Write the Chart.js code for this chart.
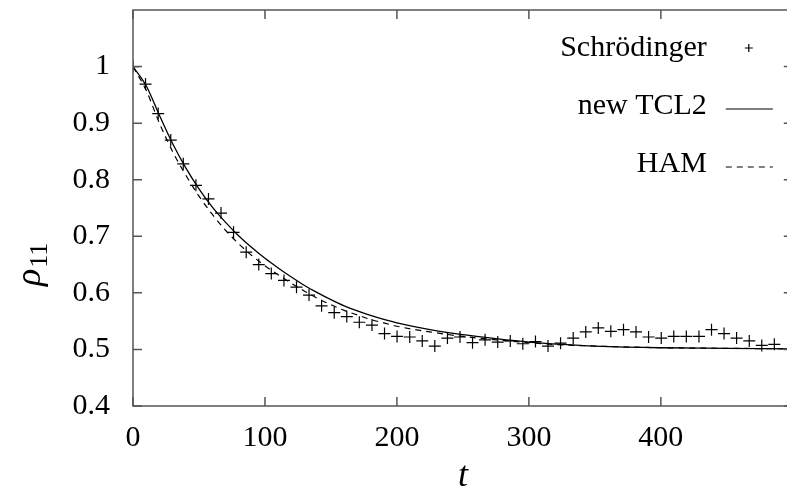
<!DOCTYPE html>
<html>
<head>
<meta charset="utf-8">
<title>rho11</title>
<script src="https://cdn.jsdelivr.net/npm/chart.js@4.4.0/dist/chart.umd.min.js"></script>
<style>
  html, body { margin: 0; padding: 0; overflow: hidden; background: #fff; }
  #wrap { width: 800px; height: 495px; }
</style>
</head>
<body>
<div id="wrap"><canvas id="rhoChart"></canvas></div>
<script>
// Date
const schrTime = [0, 9.5, 19.1, 28.6, 38.1, 47.7, 57.2, 66.7, 76.2, 85.8, 95.3, 104.8, 114.4, 123.9, 133.4, 142.9,
    152.5, 162.0, 171.5, 181.1, 190.6, 200.1, 209.7, 219.2, 228.7, 238.3, 247.8, 257.3, 266.8, 276.4, 285.9, 295.4,
    305.0, 314.5, 324.0, 333.6, 343.1, 352.6, 362.1, 371.7, 381.2, 390.7, 400.3, 409.8, 419.3, 428.9, 438.4, 447.9,
    457.4, 467.0, 476.5, 486.0];
const schrValues = [1.000, 0.969, 0.917, 0.870, 0.828, 0.790, 0.766, 0.741, 0.707, 0.672, 0.650, 0.634, 0.622, 0.610, 0.596, 0.577,
    0.565, 0.558, 0.548, 0.543, 0.528, 0.523, 0.522, 0.515, 0.506, 0.520, 0.522, 0.512, 0.517, 0.513, 0.515, 0.510,
    0.514, 0.506, 0.511, 0.520, 0.531, 0.538, 0.532, 0.535, 0.531, 0.522, 0.520, 0.523, 0.523, 0.523, 0.535, 0.528,
    0.520, 0.515, 0.507, 0.509];

const curveTime = [0, 10, 20, 30, 40, 50, 60, 70, 80, 90, 100, 110, 120, 130, 140, 150, 160, 170, 180, 190, 200,
    225, 250, 275, 300, 325, 350, 400, 450, 500];
const tcl2Values = [1.000, 0.966, 0.914, 0.864, 0.821, 0.784, 0.752, 0.725, 0.701, 0.680, 0.661, 0.644, 0.628, 0.613,
    0.600, 0.588, 0.577, 0.568, 0.560, 0.553, 0.547, 0.535, 0.526, 0.519, 0.513, 0.509, 0.506, 0.503, 0.502, 0.501];
const hamValues = [1.000, 0.958, 0.900, 0.850, 0.808, 0.771, 0.739, 0.711, 0.687, 0.666, 0.648, 0.632, 0.617, 0.603,
    0.590, 0.579, 0.569, 0.561, 0.553, 0.547, 0.541, 0.531, 0.523, 0.517, 0.512, 0.508, 0.506, 0.503, 0.502, 0.501];

const xTicks = [0, 100, 200, 300, 400];
const yTicks = [0.4, 0.5, 0.6, 0.7, 0.8, 0.9, 1];

const FONT = "'Liberation Serif', 'Times New Roman', serif";

function pairs(xs, ys) {
    return xs.map((x, i) => ({ x: x, y: ys[i] }));
}

// fara padding automat pentru etichete
function noPad(s) {
    s.paddingTop = 0; s.paddingBottom = 0; s.paddingLeft = 0; s.paddingRight = 0;
}

// Cadru, tick-uri interioare, titluri axe si legenda
const framePlugin = {
    id: 'frame',
    afterDraw(chart) {
        const ctx = chart.ctx;
        const a = chart.chartArea;
        const sx = chart.scales.x, sy = chart.scales.y;
        ctx.save();
        ctx.strokeStyle = '#555';
        ctx.lineWidth = 1.5;
        ctx.strokeRect(a.left, a.top, a.right - a.left, a.bottom - a.top);
        ctx.beginPath();
        sx.ticks.forEach(t => {
            const px = sx.getPixelForValue(t.value);
            ctx.moveTo(px, a.bottom); ctx.lineTo(px, a.bottom - 9);
            ctx.moveTo(px, a.top); ctx.lineTo(px, a.top + 9);
        });
        sy.ticks.forEach(t => {
            const py = sy.getPixelForValue(t.value);
            ctx.moveTo(a.left, py); ctx.lineTo(a.left + 9, py);
            ctx.moveTo(a.right, py); ctx.lineTo(a.right - 9, py);
        });
        ctx.stroke();

        // titlu axa x
        ctx.fillStyle = '#000';
        ctx.font = 'italic 36px ' + FONT;
        ctx.textAlign = 'center';
        ctx.textBaseline = 'alphabetic';
        ctx.fillText('t', (a.left + a.right) / 2, a.bottom + 80);

        // titlu axa y: rho cu indice 11
        ctx.save();
        ctx.translate(a.left - 93, 286);
        ctx.rotate(-Math.PI / 2);
        ctx.textAlign = 'left';
        ctx.font = 'italic 36px ' + FONT;
        ctx.fillText('ρ', 0, 0);
        const w = ctx.measureText('ρ').width;
        ctx.font = '26px ' + FONT;
        ctx.fillText('11', w + 1, 7);
        ctx.restore();

        // legenda
        ctx.font = '30px ' + FONT;
        ctx.textAlign = 'right';
        ctx.textBaseline = 'middle';
        chart.data.datasets.forEach((ds, i) => {
            const y = a.top + 38 + i * 58;
            ctx.fillStyle = '#000';
            ctx.fillText(ds.label, a.right - 86, y);
            ctx.strokeStyle = '#000';
            ctx.lineWidth = 1.2;
            ctx.beginPath();
            if (ds.showLine === false) {
                const cx = a.right - 44;
                ctx.moveTo(cx - 4, y); ctx.lineTo(cx + 4, y);
                ctx.moveTo(cx, y - 4); ctx.lineTo(cx, y + 4);
            } else {
                ctx.setLineDash(ds.borderDash || []);
                ctx.moveTo(a.right - 67, y + 3); ctx.lineTo(a.right - 20, y + 3);
            }
            ctx.stroke();
            ctx.setLineDash([]);
        });
        ctx.restore();
    }
};

const ctx = document.getElementById('rhoChart').getContext('2d');
const rhoChart = new Chart(ctx, {
    type: 'scatter',
    data: {
        datasets: [{
            label: 'Schrödinger',
            data: pairs(schrTime, schrValues),
            showLine: false,
            pointStyle: 'cross',
            pointRadius: 6,
            pointBorderWidth: 1.2,
            borderColor: '#000',
            backgroundColor: '#000'
        }, {
            label: 'new TCL2',
            data: pairs(curveTime, tcl2Values),
            showLine: true,
            pointRadius: 0,
            borderColor: '#000',
            borderWidth: 1.3,
            cubicInterpolationMode: 'monotone'
        }, {
            label: 'HAM',
            data: pairs(curveTime, hamValues),
            showLine: true,
            pointRadius: 0,
            borderColor: '#000',
            borderWidth: 1.2,
            borderDash: [6, 5],
            cubicInterpolationMode: 'monotone'
        }]
    },
    options: {
        responsive: true,
        maintainAspectRatio: false,
        animation: false,
        layout: { padding: { top: 10, right: 3, left: 0, bottom: 0 } },
        plugins: { legend: { display: false }, tooltip: { enabled: false } },
        scales: {
            x: {
                type: 'linear',
                min: 0,
                max: 500,
                afterBuildTicks: s => { s.ticks = xTicks.map(v => ({ value: v })); },
                afterFit: s => { s.height = 89; noPad(s); },
                grid: { display: false, drawTicks: false },
                border: { display: false },
                ticks: { color: '#000', padding: 14, maxRotation: 0, callback: v => String(v),
                    font: { family: FONT, size: 30 } }
            },
            y: {
                type: 'linear',
                min: 0.4,
                max: 1.1,
                afterBuildTicks: s => { s.ticks = yTicks.map(v => ({ value: v })); },
                afterFit: s => { s.width = 133; noPad(s); },
                grid: { display: false, drawTicks: false },
                border: { display: false },
                ticks: { color: '#000', padding: 23, callback: v => String(v),
                    font: { family: FONT, size: 30 } }
            }
        }
    },
    plugins: [framePlugin]
});
</script>
</body>
</html>
